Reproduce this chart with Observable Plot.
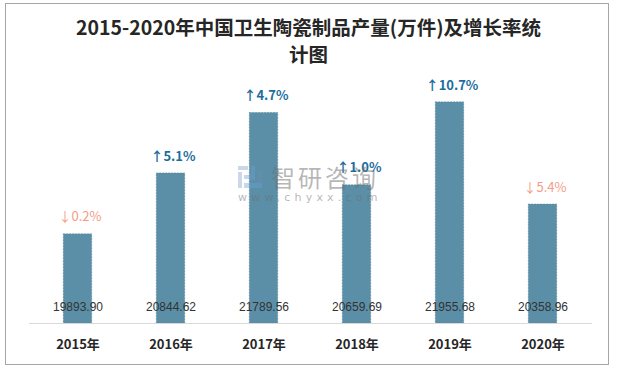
<!DOCTYPE html>
<html>
<head>
<meta charset="utf-8">
<script src="https://cdn.jsdelivr.net/npm/d3@7"></script>
<script src="https://cdn.jsdelivr.net/npm/@observablehq/plot@0.6"></script>
<style>
  html, body { margin: 0; padding: 0; background: #fff; }
  #wrap { position: relative; width: 617px; height: 370px; overflow: hidden; }
  #frame { position: absolute; left: 5px; top: 3px; width: 604px; height: 362px; border: 1px solid #a6a6a6; box-sizing: border-box; }
  #title { position: absolute; left: 0; top: 13px; width: 617px; text-align: center;
    font-family: "Noto Sans CJK SC", sans-serif; font-weight: bold; font-size: 19.5px; line-height: 27px; color: #262626; }
  #chart { position: absolute; left: 0; top: 66px; }
  #wm { position: absolute; left: 238px; top: 164px; pointer-events: none; }
  #wm .big { position: absolute; left: 33px; top: 1px; font-family: "Noto Sans CJK SC", sans-serif; font-size: 24px; line-height: 24px; color: rgba(110,110,110,0.5); letter-spacing: 3px; white-space: nowrap; }
  #wm .small { position: absolute; left: 0px; top: 28px; font-family: "DejaVu Sans", sans-serif; font-size: 11px; line-height: 11px; color: rgba(110,110,110,0.5); letter-spacing: 4.2px; white-space: nowrap; }
  #wm .logo { position: absolute; left: 0; top: 2px; width: 24px; height: 22px; }
</style>
</head>
<body>
<div id="wrap">
  <div id="frame"></div>
  <div id="title">2015-2020年中国卫生陶瓷制品产量(万件)及增长率统<br>计图</div>
  <div id="chart"></div>
</div>
<script>
const years = ["2015年", "2016年", "2017年", "2018年", "2019年", "2020年"];
const output = [19893.90, 20844.62, 21789.56, 20659.69, 21955.68, 20358.96];
const growth = [-0.2, 5.1, 4.7, 1.0, 10.7, -5.4];
const yDomain = [18500, 22500];

const data = years.map((y, i) => ({year: y, value: output[i], growth: growth[i]}));
const ups = data.filter(d => d.growth >= 0);
const downs = data.filter(d => d.growth < 0);
const growthText = d => (d.growth >= 0 ? "↑" : "↓") + Math.abs(d.growth).toFixed(1) + "%";

const plot = Plot.plot({
  width: 617,
  height: 304,
  marginTop: 1,
  marginBottom: 47,
  marginLeft: 29,
  marginRight: 25,
  style: {background: "transparent", overflow: "visible"},
  x: {domain: years, paddingInner: 0.685, paddingOuter: 0.3425, label: null},
  y: {domain: yDomain, axis: null},
  marks: [
    Plot.barY(data, {x: "year", y1: yDomain[0], y2: "value", fill: "#5b8fa7", stroke: "#4d7f97", strokeWidth: 0.6, strokeDasharray: "1.5,1.5", insetLeft: 0.3, insetRight: 0.3}),
    Plot.ruleY([yDomain[0]], {stroke: "#d9d9d9", strokeWidth: 1}),
    Plot.text(data, {x: "year", frameAnchor: "bottom", dy: -13, text: d => d.value.toFixed(2),
      fill: "#333", fontSize: 12, fontFamily: "Liberation Sans, Arial, sans-serif"}),
    Plot.text(ups, {x: "year", y: "value", dy: -17, dx: 2, text: growthText,
      fill: "#1b6d9c", fontWeight: "bold", fontSize: 13, fontFamily: "Noto Sans CJK SC, sans-serif"}),
    Plot.text(downs, {x: "year", y: "value", dy: -17, dx: 2, text: growthText,
      fill: "#f49c85", fontWeight: "normal", fontSize: 13, fontFamily: "Noto Sans CJK SC, sans-serif"}),
    Plot.axisX({tickSize: 0, tickPadding: 16, fontSize: 13, fontWeight: "bold", fill: "#262626",
      fontFamily: "Noto Sans CJK SC, sans-serif"})
  ]
});
document.getElementById("chart").appendChild(plot);

const wm = document.createElement("div");
wm.id = "wm";
wm.innerHTML = '<svg class="logo" viewBox="0 0 24 22"><rect x="0" y="0" width="10" height="4" fill="rgba(110,140,190,0.35)"/><rect x="0" y="6" width="4" height="16" fill="rgba(110,140,190,0.35)"/><rect x="6" y="9" width="7" height="4" fill="rgba(110,160,210,0.4)"/><rect x="13" y="0" width="4" height="14" fill="rgba(110,160,210,0.4)"/><rect x="6" y="17" width="18" height="5" fill="rgba(110,160,210,0.4)"/><rect x="19" y="4" width="5" height="13" fill="rgba(110,140,190,0.35)"/></svg>'
  + '<div class="big">智研咨询</div><div class="small">www.chyxx.com</div>';
document.getElementById("wrap").appendChild(wm);
</script>
</body>
</html>
